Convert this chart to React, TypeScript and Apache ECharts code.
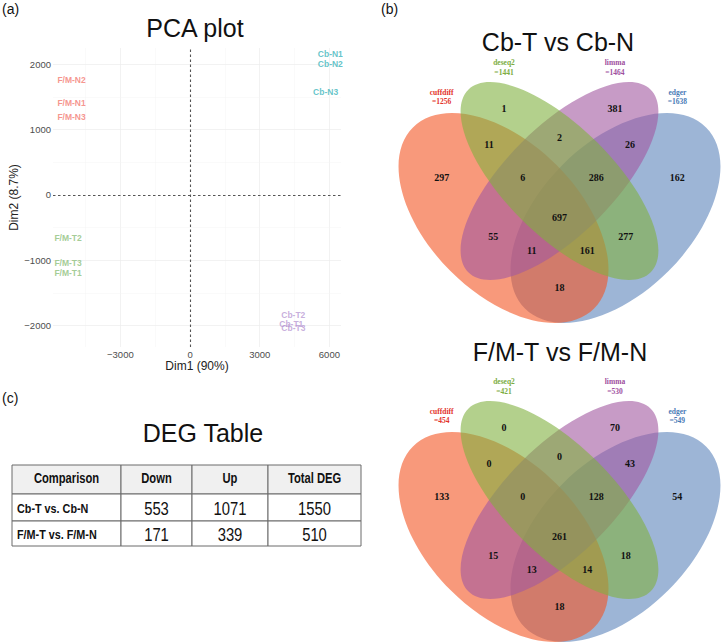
import React, { useEffect, useRef } from "react";
import * as echarts from "echarts";

const SANS = '"Liberation Sans", Arial, Helvetica, sans-serif';
const SERIF = '"Liberation Serif", "Times New Roman", serif';

// ---------------- PCA data ----------------
const fmNLabels = ["F/M-N1", "F/M-N2", "F/M-N3"];
const fmNDim1 = [-5100, -5100, -5100];
const fmNDim2 = [1409, 1761, 1190];
const cbNLabels = ["Cb-N1", "Cb-N2", "Cb-N3"];
const cbNDim1 = [6040, 6040, 5837];
const cbNDim2 = [2159, 2001, 1577];
const fmTLabels = ["F/M-T1", "F/M-T2", "F/M-T3"];
const fmTDim1 = [-5250, -5250, -5250];
const fmTDim2 = [-1199, -658, -1037];
const cbTLabels = ["Cb-T1", "Cb-T2", "Cb-T3"];
const cbTDim1 = [4360, 4447, 4450];
const cbTDim2 = [-1980, -1838, -2032];
const dim1Ticks = [-3000, 0, 3000, 6000];
const dim2Ticks = [-2000, -1000, 0, 1000, 2000];

// ---------------- Venn data ----------------
const vennSetNames = ["cuffdiff", "deseq2", "limma", "edger"];
const cbSetSizes = [1256, 1441, 1464, 1638];
const fmSetSizes = [454, 421, 530, 549];
// region keys: c=cuffdiff d=deseq2 l=limma e=edger
const regionKeys = ["c", "d", "l", "e", "cd", "dl", "le", "cdl", "dle", "cdle", "cl", "de", "cle", "cde", "ce"];
const cbRegionCounts = [297, 1, 381, 162, 11, 2, 26, 6, 286, 697, 55, 277, 11, 161, 18];
const fmRegionCounts = [133, 0, 70, 54, 0, 0, 43, 0, 128, 261, 15, 18, 13, 14, 18];

// ---------------- DEG table data ----------------
const tableHeader = ["Comparison", "Down", "Up", "Total DEG"];
const comparisons = ["Cb-T vs. Cb-N", "F/M-T vs. F/M-N"];
const downCounts = [553, 171];
const upCounts = [1071, 339];
const totalCounts = [1550, 510];

// ---------------- layout (not data) ----------------
const ellCx = [0.347, 0.5, 0.5, 0.653];
const ellCy = [0.4634, 0.5645, 0.5645, 0.4634];
const ellA = [0.35, 0.3525, 0.3525, 0.35];
const ellB = [0.205, 0.1475, 0.1475, 0.205];
const ellRot = [-45, -45, 45, 45];
const ellFill = ["#F35523", "#80B13F", "#A258A0", "#5C84BB"];
const ellDrawOrder = [3, 0, 2, 1];
const setLabelColor = ["#E3332B", "#7CAD43", "#9E4F9E", "#4A7BB7"];
const setLabelU = [0.178, 0.3484, 0.6516, 0.822];
const setLabelV = [0.8077, 0.8878, 0.8878, 0.8077];
const regionU = [0.178, 0.3484, 0.6516, 0.822, 0.3074, 0.5, 0.6926, 0.3995, 0.6005, 0.5, 0.3191, 0.6809, 0.424, 0.576, 0.5];
const regionV = [0.5736, 0.7632, 0.7632, 0.5736, 0.6648, 0.6839, 0.6648, 0.5736, 0.5736, 0.4643, 0.4123, 0.4123, 0.3733, 0.3733, 0.273];
const tableColEdges = [0, 109, 180, 256, 349];
const tableRowEdges = [0, 29, 56, 81];

const VS = 366; // px per venn unit
const VX0 = 559.5;
const vennUMin = 0.05;
const vennUMax = 0.94;

const minus = (v: number) => (v < 0 ? "\u2212" + Math.abs(v) : String(v));
const midpoints = (t: number[]) => t.slice(0, -1).map((v, i) => (v + t[i + 1]) / 2);

function vennGrid(yc: number, vMin: number, vMax: number) {
  return {
    left: VX0 + (vennUMin - 0.5) * VS,
    width: (vennUMax - vennUMin) * VS,
    top: yc - (vMax - 0.57) * VS,
    height: (vMax - vMin) * VS,
  };
}

function vennSeries(grid: number, counts: number[], sizes: number[]) {
  return [
    {
      type: "custom",
      xAxisIndex: grid,
      yAxisIndex: grid,
      silent: true,
      data: ellDrawOrder.map((k) => [ellCx[k], ellCy[k]]),
      renderItem: (params: any, api: any) => {
        const k = ellDrawOrder[params.dataIndex];
        const c = api.coord([ellCx[k], ellCy[k]]);
        const s = api.size([ellA[k], ellB[k]]);
        return {
          type: "ellipse",
          x: c[0],
          y: c[1],
          rotation: (ellRot[k] * Math.PI) / 180,
          shape: { cx: 0, cy: 0, rx: s[0], ry: s[1] },
          style: { fill: ellFill[k], opacity: 0.6 },
        };
      },
      z: 2,
    },
    {
      type: "custom",
      xAxisIndex: grid,
      yAxisIndex: grid,
      silent: true,
      data: regionKeys.map((_, i) => [regionU[i], regionV[i]]),
      renderItem: (params: any, api: any) => {
        const i = params.dataIndex;
        const c = api.coord([regionU[i], regionV[i]]);
        return {
          type: "text",
          x: c[0],
          y: c[1],
          style: {
            text: String(counts[i]),
            textAlign: "center",
            textVerticalAlign: "middle",
            align: "center",
            verticalAlign: "middle",
            fill: "#111",
            fontSize: 10,
            fontWeight: "bold",
            fontFamily: SERIF,
          },
        };
      },
      z: 5,
    },
    {
      type: "custom",
      xAxisIndex: grid,
      yAxisIndex: grid,
      silent: true,
      data: vennSetNames.map((_, i) => [setLabelU[i], setLabelV[i]]),
      renderItem: (params: any, api: any) => {
        const i = params.dataIndex;
        const c1 = api.coord([setLabelU[i], setLabelV[i]]);
        const c2 = api.coord([setLabelU[i], setLabelV[i] - 0.0273]);
        const st = (t: string) => ({
          text: t,
          textAlign: "center",
          textVerticalAlign: "middle",
          align: "center",
          verticalAlign: "middle",
          fill: setLabelColor[i],
          fontSize: 7.5,
          fontWeight: "bold",
          fontFamily: SERIF,
        });
        return {
          type: "group",
          children: [
            { type: "text", x: c1[0], y: c1[1], style: st(vennSetNames[i]) },
            { type: "text", x: c2[0], y: c2[1], style: st("=" + sizes[i]) },
          ],
        };
      },
      z: 5,
    },
  ];
}

export default function App() {
  const ref = useRef<HTMLDivElement>(null);
  useEffect(() => {
    if (!ref.current) return;
    const chart = echarts.init(ref.current, undefined, { renderer: "svg" });

    const pcaGroups = [
      { labels: fmNLabels, d1: fmNDim1, d2: fmNDim2, color: "#F37A72" },
      { labels: cbNLabels, d1: cbNDim1, d2: cbNDim2, color: "#3DB5BB" },
      { labels: fmTLabels, d1: fmTDim1, d2: fmTDim2, color: "#8DC07B" },
      { labels: cbTLabels, d1: cbTDim1, d2: cbTDim2, color: "#B99AD4" },
    ];

    const gridMajor = { color: "#EDEDED", width: 0.7, type: "solid" };
    const gridMinor = { color: "#F5F5F5", width: 0.5, type: "solid" };
    const zeroLine = { color: "#555", width: 1.1, type: [2.5, 2.5] };
    const markData: any[] = [
      ...dim1Ticks.filter((v) => v !== 0).map((v) => ({ xAxis: v, lineStyle: gridMajor })),
      ...midpoints(dim1Ticks).concat([-4500]).map((v) => ({ xAxis: v, lineStyle: gridMinor })),
      ...dim2Ticks.filter((v) => v !== 0).map((v) => ({ yAxis: v, lineStyle: gridMajor })),
      ...midpoints(dim2Ticks).map((v) => ({ yAxis: v, lineStyle: gridMinor })),
      { xAxis: 0, lineStyle: zeroLine },
      { yAxis: 0, lineStyle: zeroLine },
    ];

    const pcaSeries = pcaGroups.map((g, gi) => ({
      type: "scatter",
      xAxisIndex: 0,
      yAxisIndex: 0,
      silent: true,
      symbolSize: 1,
      itemStyle: { color: "rgba(0,0,0,0)" },
      data: g.labels.map((n, i) => ({ name: n, value: [g.d1[i], g.d2[i]] })),
      label: {
        show: true,
        position: "inside",
        formatter: "{b}",
        color: g.color,
        fontSize: 8.5,
        fontWeight: "bold",
        fontFamily: SANS,
      },
      z: 5,
      markLine:
        gi === 0
          ? { silent: true, symbol: ["none", "none"], label: { show: false }, data: markData, z: 1 }
          : undefined,
    }));

    const tableCells: number[][] = [];
    for (let r = 0; r < 3; r++) for (let c = 0; c < 4; c++) tableCells.push([c, r]);
    const cellText = (c: number, r: number) => {
      if (r === 0) return tableHeader[c];
      const i = r - 1;
      return [comparisons[i], String(downCounts[i]), String(upCounts[i]), String(totalCounts[i])][c];
    };

    const tableSeries = {
      type: "custom",
      xAxisIndex: 3,
      yAxisIndex: 3,
      silent: true,
      data: tableCells.map(([c, r]) => [tableColEdges[c], tableRowEdges[r]]),
      renderItem: (params: any, api: any) => {
        const [c, r] = tableCells[params.dataIndex];
        const p0 = api.coord([tableColEdges[c], tableRowEdges[r]]);
        const p1 = api.coord([tableColEdges[c + 1], tableRowEdges[r + 1]]);
        const x = p0[0];
        const y = p0[1];
        const w = p1[0] - p0[0];
        const h = p1[1] - p0[1];
        const header = r === 0;
        const rowLabel = !header && c === 0;
        const txt = {
          text: cellText(c, r),
          textAlign: rowLabel ? "left" : "center",
          textVerticalAlign: "middle",
          align: rowLabel ? "left" : "center",
          verticalAlign: "middle",
          fill: "#111",
          fontSize: header ? 14 : rowLabel ? 13.5 : 18.5,
          fontWeight: header || rowLabel ? "bold" : "normal",
          fontFamily: SANS,
        };
        return {
          type: "group",
          children: [
            {
              type: "rect",
              shape: { x, y, width: w, height: h },
              style: { fill: header ? "#F0F0F0" : "#FFFFFF", stroke: "#6A6A6A", lineWidth: 1 },
            },
            {
              type: "text",
              x: rowLabel ? x + 5 : x + w / 2,
              y: y + h / 2 + (header ? -1 : 1),
              scaleX: 0.8,
              style: txt,
            },
          ],
        };
      },
      z: 3,
    };

    const hiddenAxis = (gridIndex: number, min: number, max: number, inverse = false) => ({
      gridIndex,
      type: "value",
      min,
      max,
      inverse,
      show: false,
    });

    const titleText = (text: string, x: number, y: number, size: number, align = "center") => ({
      type: "text",
      x,
      y,
      silent: true,
      style: {
        text,
        textAlign: align,
        textVerticalAlign: "middle",
        align,
        verticalAlign: "middle",
        fill: "#111",
        fontSize: size,
        fontFamily: SANS,
      },
    });

    const option: any = {
      animation: false,
      backgroundColor: "#FFFFFF",
      grid: [
        { left: 53, top: 48, width: 288, height: 299 },
        vennGrid(179, 0, 1),
        vennGrid(498, 0.2, 1),
        { left: 12, top: 465, width: 349, height: 81 },
      ],
      xAxis: [
        {
          gridIndex: 0,
          type: "value",
          min: -5900,
          max: 6500,
          axisLine: { show: false },
          axisTick: { show: false },
          splitLine: { show: false },
          axisLabel: {
            customValues: dim1Ticks,
            formatter: (v: number) => minus(v),
            color: "#4D4D4D",
            fontSize: 9.5,
            margin: 2,
            fontFamily: SANS,
          },
          name: "Dim1 (90%)",
          nameLocation: "middle",
          nameGap: 11,
          nameTextStyle: { fontSize: 12, color: "#222", fontFamily: SANS },
        },
        hiddenAxis(1, vennUMin, vennUMax),
        hiddenAxis(2, vennUMin, vennUMax),
        hiddenAxis(3, 0, 349),
      ],
      yAxis: [
        {
          gridIndex: 0,
          type: "value",
          min: -2330,
          max: 2250,
          axisLine: { show: false },
          axisTick: { show: false },
          splitLine: { show: false },
          axisLabel: {
            customValues: dim2Ticks,
            formatter: (v: number) => minus(v),
            color: "#4D4D4D",
            fontSize: 9.5,
            margin: 2,
            fontFamily: SANS,
          },
          name: "Dim2 (8.7%)",
          nameLocation: "middle",
          nameGap: 30,
          nameTextStyle: { fontSize: 12, color: "#222", fontFamily: SANS },
        },
        hiddenAxis(1, 0, 1),
        hiddenAxis(2, 0.2, 1),
        hiddenAxis(3, 0, 81, true),
      ],
      graphic: [
        titleText("(a)", 2, 9, 14, "left"),
        titleText("PCA plot", 195, 28, 25),
        titleText("(b)", 381, 9, 14, "left"),
        titleText("Cb-T vs Cb-N", 558, 42, 25),
        titleText("F/M-T vs F/M-N", 560, 352, 25),
        titleText("(c)", 2, 398, 14, "left"),
        titleText("DEG Table", 203, 433, 25),
      ],
      series: [
        ...pcaSeries,
        ...vennSeries(1, cbRegionCounts, cbSetSizes),
        ...vennSeries(2, fmRegionCounts, fmSetSizes),
        tableSeries,
      ],
    };

    chart.setOption(option);
    return () => chart.dispose();
  }, []);

  return (
    <div
      ref={ref}
      style={{ position: "absolute", left: 0, top: 0, width: 723, height: 644, background: "#fff" }}
    />
  );
}
